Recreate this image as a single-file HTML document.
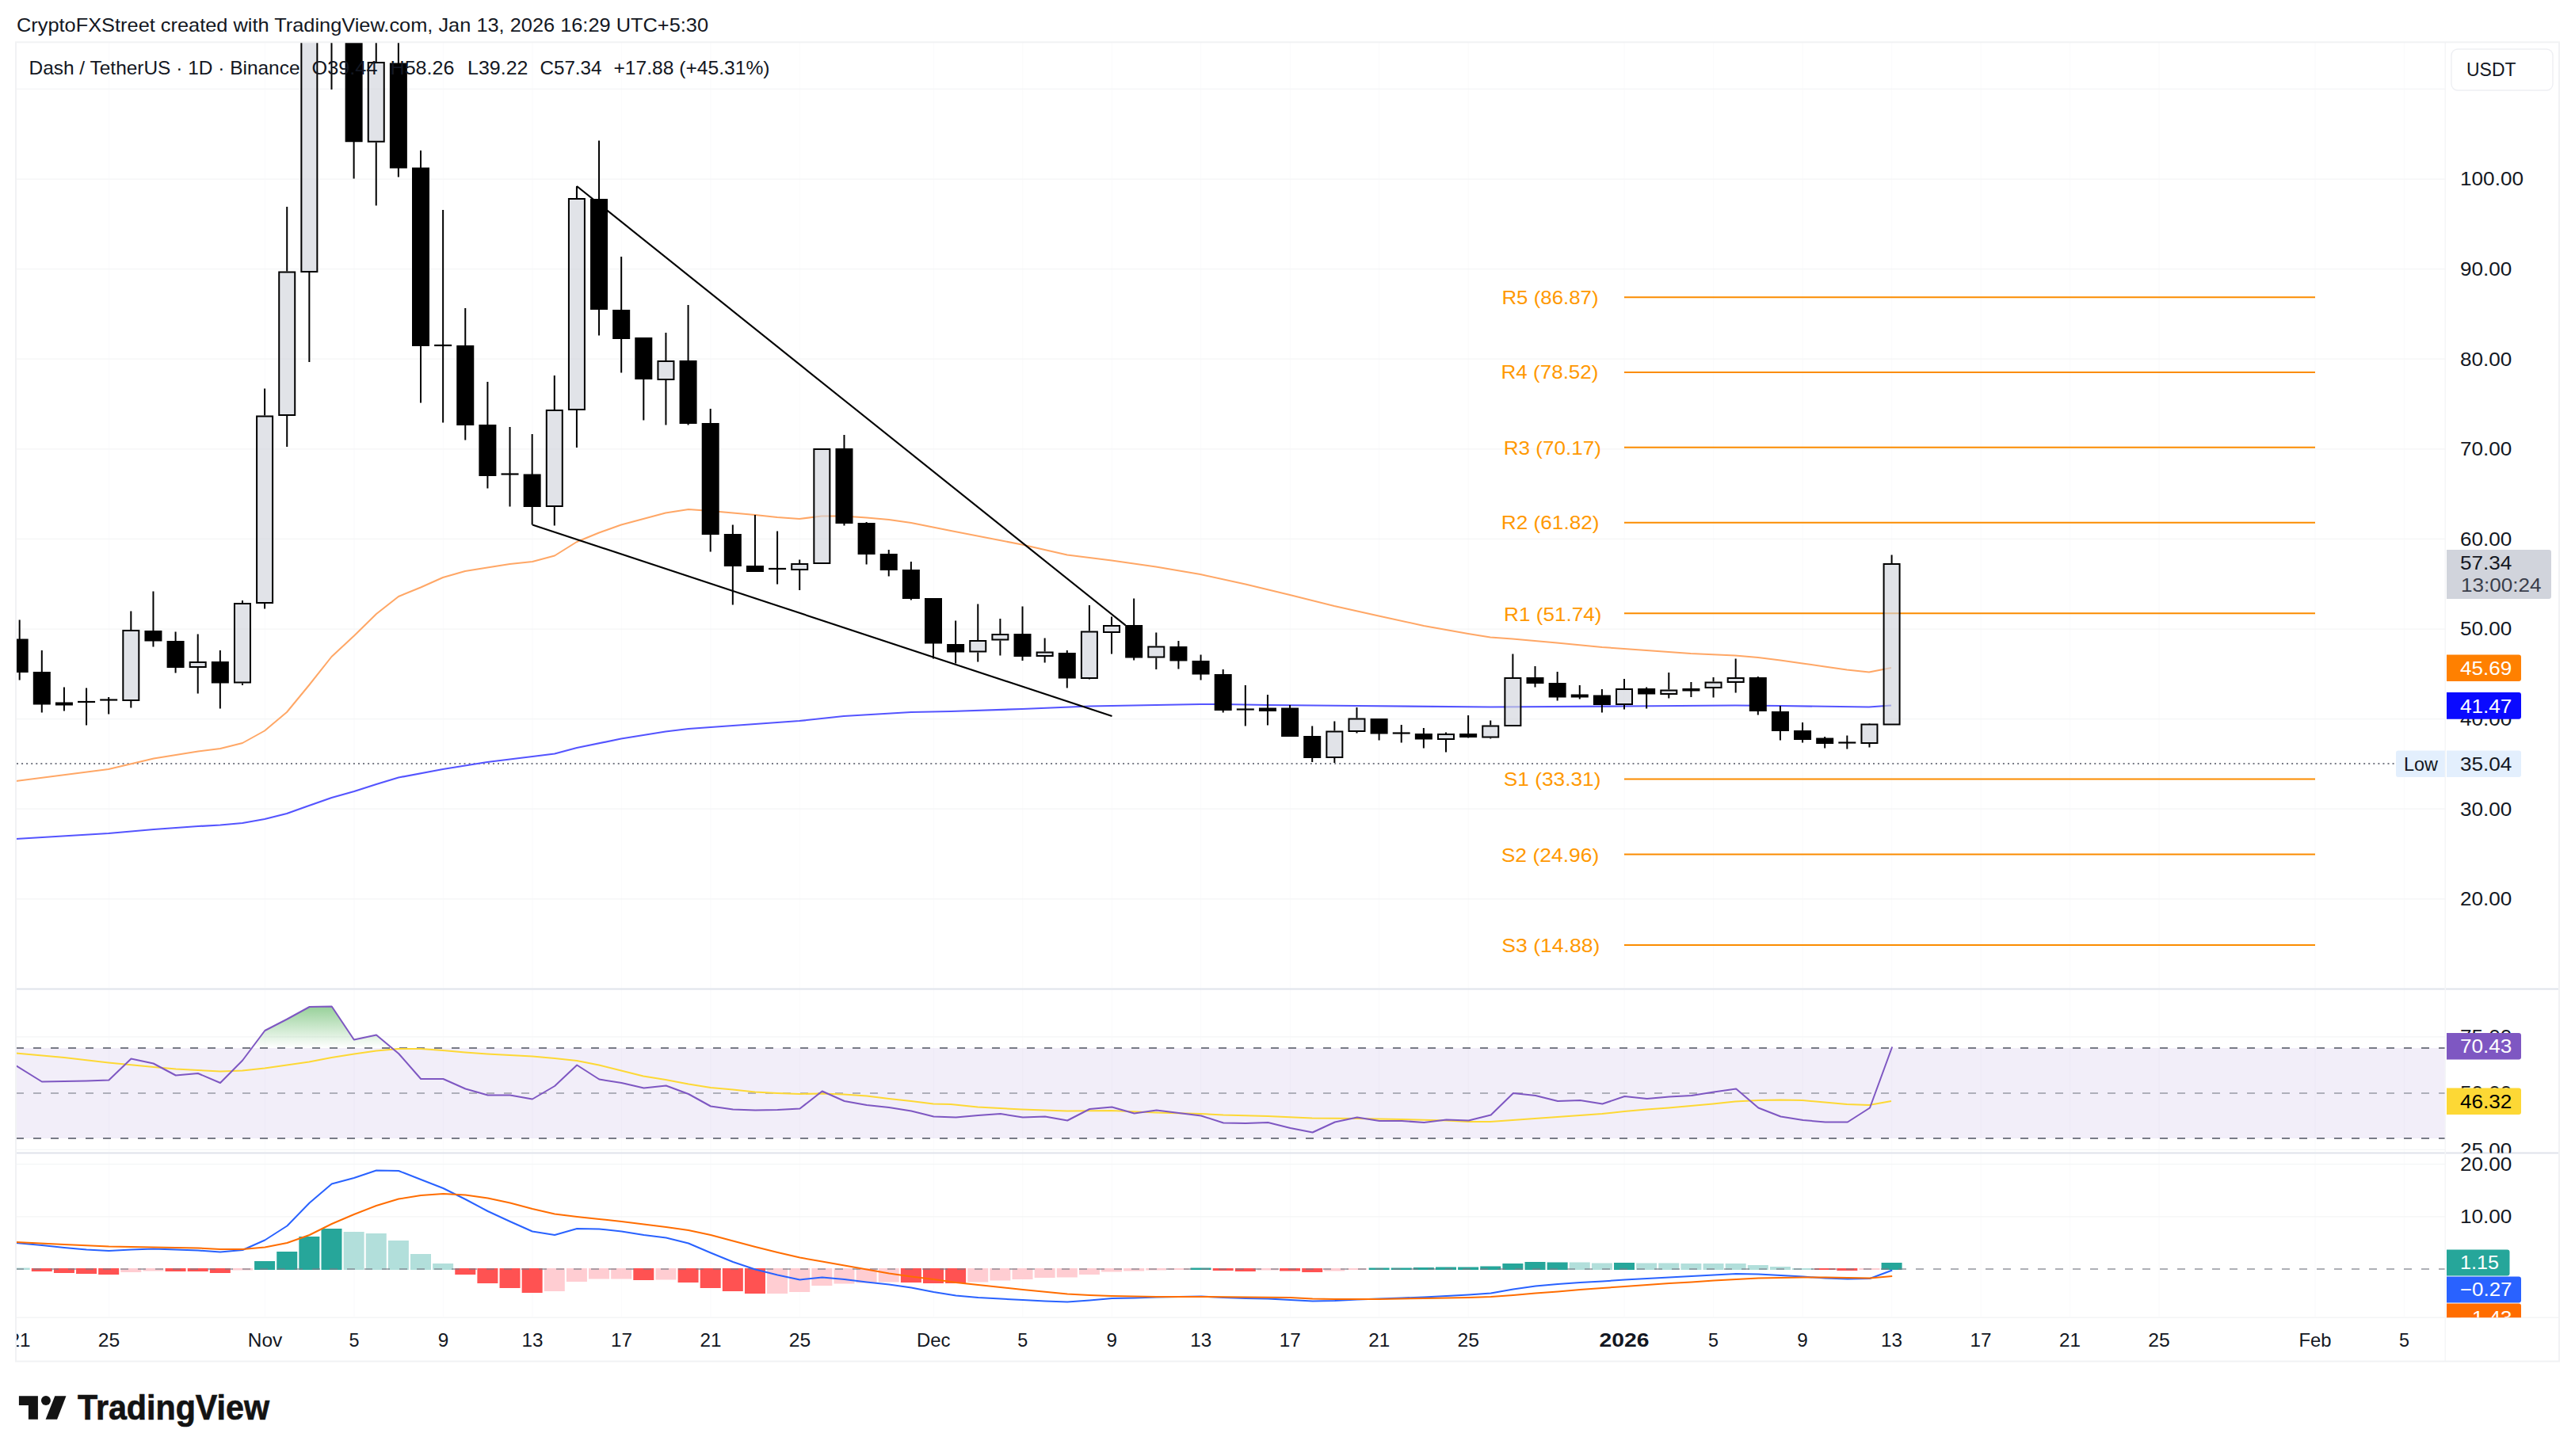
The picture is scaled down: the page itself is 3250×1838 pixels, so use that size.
<!DOCTYPE html>
<html><head><meta charset="utf-8"><title>DASHUSDT chart</title>
<style>html,body{margin:0;padding:0;background:#fff}svg{display:block}</style></head>
<body>
<svg width="3250" height="1838" viewBox="0 0 3250 1838" font-family="'Liberation Sans', sans-serif">
<defs>
<clipPath id="cp1"><rect x="20" y="54" width="3067" height="1194.5"/></clipPath>
<clipPath id="cp2"><rect x="20" y="1248.5" width="3067" height="207.0"/></clipPath>
<clipPath id="cp3"><rect x="20" y="1455.5" width="3067" height="207.70000000000005"/></clipPath>
<clipPath id="ca2"><rect x="3087" y="1249.5" width="143" height="206.0"/></clipPath>
<clipPath id="ca3"><rect x="3087" y="1456.5" width="143" height="206.70000000000005"/></clipPath>
<linearGradient id="gg" gradientUnits="userSpaceOnUse" x1="0" y1="1237.5" x2="0" y2="1323"><stop offset="0" stop-color="#4caf50" stop-opacity="0.95"/><stop offset="1" stop-color="#4caf50" stop-opacity="0"/></linearGradient>
</defs>
<rect x="0.00" y="0.00" width="3250.00" height="1838.00" fill="#ffffff" />
<text x="21.00" y="40.00" font-size="23.6" fill="#131722" textLength="873.0" lengthAdjust="spacingAndGlyphs" >CryptoFXStreet created with TradingView.com, Jan 13, 2026 16:29 UTC+5:30</text>
<line x1="137.62" y1="54.00" x2="137.62" y2="1663.20" stroke="#fbfbfc" stroke-width="1.25" />
<line x1="334.50" y1="54.00" x2="334.50" y2="1663.20" stroke="#fbfbfc" stroke-width="1.25" />
<line x1="447.00" y1="54.00" x2="447.00" y2="1663.20" stroke="#fbfbfc" stroke-width="1.25" />
<line x1="559.50" y1="54.00" x2="559.50" y2="1663.20" stroke="#fbfbfc" stroke-width="1.25" />
<line x1="672.00" y1="54.00" x2="672.00" y2="1663.20" stroke="#fbfbfc" stroke-width="1.25" />
<line x1="784.50" y1="54.00" x2="784.50" y2="1663.20" stroke="#fbfbfc" stroke-width="1.25" />
<line x1="897.00" y1="54.00" x2="897.00" y2="1663.20" stroke="#fbfbfc" stroke-width="1.25" />
<line x1="1009.50" y1="54.00" x2="1009.50" y2="1663.20" stroke="#fbfbfc" stroke-width="1.25" />
<line x1="1178.25" y1="54.00" x2="1178.25" y2="1663.20" stroke="#fbfbfc" stroke-width="1.25" />
<line x1="1290.75" y1="54.00" x2="1290.75" y2="1663.20" stroke="#fbfbfc" stroke-width="1.25" />
<line x1="1403.25" y1="54.00" x2="1403.25" y2="1663.20" stroke="#fbfbfc" stroke-width="1.25" />
<line x1="1515.75" y1="54.00" x2="1515.75" y2="1663.20" stroke="#fbfbfc" stroke-width="1.25" />
<line x1="1628.25" y1="54.00" x2="1628.25" y2="1663.20" stroke="#fbfbfc" stroke-width="1.25" />
<line x1="1740.75" y1="54.00" x2="1740.75" y2="1663.20" stroke="#fbfbfc" stroke-width="1.25" />
<line x1="1853.25" y1="54.00" x2="1853.25" y2="1663.20" stroke="#fbfbfc" stroke-width="1.25" />
<line x1="2050.12" y1="54.00" x2="2050.12" y2="1663.20" stroke="#fbfbfc" stroke-width="1.25" />
<line x1="2162.62" y1="54.00" x2="2162.62" y2="1663.20" stroke="#fbfbfc" stroke-width="1.25" />
<line x1="2275.12" y1="54.00" x2="2275.12" y2="1663.20" stroke="#fbfbfc" stroke-width="1.25" />
<line x1="2387.62" y1="54.00" x2="2387.62" y2="1663.20" stroke="#fbfbfc" stroke-width="1.25" />
<line x1="2500.12" y1="54.00" x2="2500.12" y2="1663.20" stroke="#fbfbfc" stroke-width="1.25" />
<line x1="2612.62" y1="54.00" x2="2612.62" y2="1663.20" stroke="#fbfbfc" stroke-width="1.25" />
<line x1="2725.12" y1="54.00" x2="2725.12" y2="1663.20" stroke="#fbfbfc" stroke-width="1.25" />
<line x1="2922.00" y1="54.00" x2="2922.00" y2="1663.20" stroke="#fbfbfc" stroke-width="1.25" />
<line x1="3034.50" y1="54.00" x2="3034.50" y2="1663.20" stroke="#fbfbfc" stroke-width="1.25" />
<line x1="20.00" y1="112.40" x2="3087.00" y2="112.40" stroke="#f4f5f6" stroke-width="1.25" />
<line x1="20.00" y1="226.00" x2="3087.00" y2="226.00" stroke="#f4f5f6" stroke-width="1.25" />
<line x1="20.00" y1="339.60" x2="3087.00" y2="339.60" stroke="#f4f5f6" stroke-width="1.25" />
<line x1="20.00" y1="453.20" x2="3087.00" y2="453.20" stroke="#f4f5f6" stroke-width="1.25" />
<line x1="20.00" y1="566.80" x2="3087.00" y2="566.80" stroke="#f4f5f6" stroke-width="1.25" />
<line x1="20.00" y1="680.40" x2="3087.00" y2="680.40" stroke="#f4f5f6" stroke-width="1.25" />
<line x1="20.00" y1="794.00" x2="3087.00" y2="794.00" stroke="#f4f5f6" stroke-width="1.25" />
<line x1="20.00" y1="907.60" x2="3087.00" y2="907.60" stroke="#f4f5f6" stroke-width="1.25" />
<line x1="20.00" y1="1021.20" x2="3087.00" y2="1021.20" stroke="#f4f5f6" stroke-width="1.25" />
<line x1="20.00" y1="1134.80" x2="3087.00" y2="1134.80" stroke="#f4f5f6" stroke-width="1.25" />
<line x1="20.00" y1="1308.75" x2="3087.00" y2="1308.75" stroke="#f4f5f6" stroke-width="1.25" />
<line x1="20.00" y1="1451.25" x2="3087.00" y2="1451.25" stroke="#f4f5f6" stroke-width="1.25" />
<line x1="20.00" y1="1469.50" x2="3087.00" y2="1469.50" stroke="#f4f5f6" stroke-width="1.25" />
<line x1="20.00" y1="1535.75" x2="3087.00" y2="1535.75" stroke="#f4f5f6" stroke-width="1.25" />
<rect x="20.00" y="1323.00" width="3067.00" height="114.00" fill="#7e57c2" fill-opacity="0.1"/>
<line x1="20.00" y1="1323.00" x2="3087.00" y2="1323.00" stroke="#787b86" stroke-width="2" stroke-dasharray="10 12"/>
<line x1="20.00" y1="1437.00" x2="3087.00" y2="1437.00" stroke="#787b86" stroke-width="2" stroke-dasharray="10 12"/>
<line x1="20.00" y1="1380.00" x2="3087.00" y2="1380.00" stroke="#787b86" stroke-width="2" stroke-dasharray="10 12" stroke-opacity="0.55"/>
<g clip-path="url(#cp1)">
<line x1="21.00" y1="963.95" x2="3024.00" y2="963.95" stroke="#787b86" stroke-width="2" stroke-dasharray="2 4.07"/>
<line x1="2050.00" y1="375.16" x2="2922.00" y2="375.16" stroke="#fb8c00" stroke-width="2" />
<line x1="2050.00" y1="470.01" x2="2922.00" y2="470.01" stroke="#fb8c00" stroke-width="2" />
<line x1="2050.00" y1="564.87" x2="2922.00" y2="564.87" stroke="#fb8c00" stroke-width="2" />
<line x1="2050.00" y1="659.72" x2="2922.00" y2="659.72" stroke="#fb8c00" stroke-width="2" />
<line x1="2050.00" y1="774.23" x2="2922.00" y2="774.23" stroke="#fb8c00" stroke-width="2" />
<line x1="2050.00" y1="983.60" x2="2922.00" y2="983.60" stroke="#fb8c00" stroke-width="2" />
<line x1="2050.00" y1="1078.45" x2="2922.00" y2="1078.45" stroke="#fb8c00" stroke-width="2" />
<line x1="2050.00" y1="1192.96" x2="2922.00" y2="1192.96" stroke="#fb8c00" stroke-width="2" />
<polyline points="20.0,1059.0 137.0,1052.0 194.0,1047.0 250.0,1043.0 278.0,1041.5 306.0,1039.0 334.0,1034.0 362.0,1027.0 390.0,1017.0 418.5,1007.0 447.0,999.0 475.0,990.0 503.0,981.5 559.0,971.0 615.0,962.0 672.0,955.0 700.0,951.5 728.0,944.0 784.0,932.5 840.0,923.5 869.0,920.0 925.0,916.0 1009.0,910.0 1065.0,904.0 1150.0,899.0 1200.0,898.0 1290.0,895.0 1375.0,891.5 1459.0,890.0 1515.0,889.0 1544.0,889.0 1600.0,890.0 1712.0,891.0 1881.0,892.5 2050.0,891.5 2190.0,890.5 2247.0,891.0 2359.0,892.5 2387.0,890.5" fill="none" stroke="#5454ff" stroke-width="2.2" stroke-linejoin="round" stroke-linecap="butt" />
<polyline points="20.0,986.0 137.0,971.0 194.0,957.5 250.0,948.5 278.0,945.0 306.0,938.0 334.0,922.5 362.0,899.0 390.0,865.0 418.5,829.0 447.0,802.5 475.0,775.0 503.0,753.0 531.0,741.5 559.0,729.0 587.0,721.0 615.0,716.5 643.5,712.0 672.0,709.0 700.0,701.5 728.0,684.0 756.0,672.5 784.0,662.5 812.0,655.0 840.0,647.5 869.0,643.0 897.0,645.0 925.0,647.5 953.0,650.0 981.0,653.0 1009.0,655.0 1037.0,651.5 1065.0,651.5 1094.0,653.5 1122.0,656.0 1150.0,660.0 1200.0,670.0 1290.0,687.5 1347.0,700.5 1403.0,707.5 1459.0,715.5 1515.0,725.0 1572.0,737.5 1628.0,751.0 1684.0,765.0 1740.0,777.5 1797.0,790.0 1853.0,800.0 1881.0,804.5 1909.0,806.5 1965.0,811.5 2022.0,817.0 2078.0,821.0 2134.0,825.0 2190.0,827.5 2219.0,830.0 2247.0,833.5 2275.0,837.5 2303.0,841.5 2331.0,845.5 2359.0,848.5 2387.0,843.0" fill="none" stroke="#ffa766" stroke-width="2.0" stroke-linejoin="round" stroke-linecap="butt" />
<line x1="24.67" y1="782.50" x2="24.67" y2="858.50" stroke="#000" stroke-width="2" />
<rect x="13.67" y="806.50" width="22.00" height="42.50" fill="#000" />
<line x1="52.80" y1="821.00" x2="52.80" y2="899.50" stroke="#000" stroke-width="2" />
<rect x="41.80" y="848.00" width="22.00" height="41.50" fill="#000" />
<line x1="80.93" y1="867.50" x2="80.93" y2="897.50" stroke="#000" stroke-width="2" />
<rect x="69.93" y="886.50" width="22.00" height="4.00" fill="#000" />
<line x1="109.06" y1="868.50" x2="109.06" y2="915.50" stroke="#000" stroke-width="2" />
<line x1="98.06" y1="886.00" x2="120.06" y2="886.00" stroke="#000" stroke-width="2.2" />
<line x1="137.19" y1="880.00" x2="137.19" y2="901.50" stroke="#000" stroke-width="2" />
<line x1="126.19" y1="883.50" x2="148.19" y2="883.50" stroke="#000" stroke-width="2.2" />
<line x1="165.32" y1="771.50" x2="165.32" y2="795.00" stroke="#000" stroke-width="2" />
<line x1="165.32" y1="885.00" x2="165.32" y2="893.50" stroke="#000" stroke-width="2" />
<rect x="155.32" y="796.00" width="20.00" height="88.00" fill="#d1d4dc" fill-opacity="0.65" stroke="#000" stroke-width="2"/>
<line x1="193.45" y1="746.50" x2="193.45" y2="816.50" stroke="#000" stroke-width="2" />
<rect x="182.45" y="796.00" width="22.00" height="13.50" fill="#000" />
<line x1="221.58" y1="797.50" x2="221.58" y2="849.50" stroke="#000" stroke-width="2" />
<rect x="210.58" y="809.00" width="22.00" height="34.00" fill="#000" />
<line x1="249.71" y1="800.50" x2="249.71" y2="835.00" stroke="#000" stroke-width="2" />
<line x1="249.71" y1="843.00" x2="249.71" y2="875.50" stroke="#000" stroke-width="2" />
<rect x="239.71" y="836.00" width="20.00" height="6.00" fill="#d1d4dc" fill-opacity="0.65" stroke="#000" stroke-width="2"/>
<line x1="277.84" y1="821.00" x2="277.84" y2="894.50" stroke="#000" stroke-width="2" />
<rect x="266.84" y="835.00" width="22.00" height="27.50" fill="#000" />
<line x1="305.97" y1="758.00" x2="305.97" y2="761.00" stroke="#000" stroke-width="2" />
<line x1="305.97" y1="862.50" x2="305.97" y2="865.00" stroke="#000" stroke-width="2" />
<rect x="295.97" y="762.00" width="20.00" height="99.50" fill="#d1d4dc" fill-opacity="0.65" stroke="#000" stroke-width="2"/>
<line x1="334.10" y1="490.50" x2="334.10" y2="524.50" stroke="#000" stroke-width="2" />
<line x1="334.10" y1="762.00" x2="334.10" y2="768.50" stroke="#000" stroke-width="2" />
<rect x="324.10" y="525.50" width="20.00" height="235.50" fill="#d1d4dc" fill-opacity="0.65" stroke="#000" stroke-width="2"/>
<line x1="362.23" y1="261.00" x2="362.23" y2="342.50" stroke="#000" stroke-width="2" />
<line x1="362.23" y1="525.00" x2="362.23" y2="564.00" stroke="#000" stroke-width="2" />
<rect x="352.23" y="343.50" width="20.00" height="180.50" fill="#d1d4dc" fill-opacity="0.65" stroke="#000" stroke-width="2"/>
<line x1="390.36" y1="344.00" x2="390.36" y2="457.00" stroke="#000" stroke-width="2" />
<rect x="380.36" y="-50.00" width="20.00" height="393.00" fill="#d1d4dc" fill-opacity="0.65" stroke="#000" stroke-width="2"/>
<line x1="418.49" y1="-59.00" x2="418.49" y2="113.00" stroke="#000" stroke-width="2" />
<rect x="408.49" y="-80.00" width="20.00" height="20.00" fill="#d1d4dc" fill-opacity="0.65" stroke="#000" stroke-width="2"/>
<line x1="446.62" y1="-50.00" x2="446.62" y2="225.50" stroke="#000" stroke-width="2" />
<rect x="435.62" y="-50.50" width="22.00" height="229.75" fill="#000" />
<line x1="474.75" y1="-50.00" x2="474.75" y2="78.00" stroke="#000" stroke-width="2" />
<line x1="474.75" y1="179.75" x2="474.75" y2="259.50" stroke="#000" stroke-width="2" />
<rect x="464.75" y="79.00" width="20.00" height="99.75" fill="#d1d4dc" fill-opacity="0.65" stroke="#000" stroke-width="2"/>
<line x1="502.88" y1="-50.00" x2="502.88" y2="223.50" stroke="#000" stroke-width="2" />
<rect x="491.88" y="79.50" width="22.00" height="133.00" fill="#000" />
<line x1="531.01" y1="190.00" x2="531.01" y2="508.50" stroke="#000" stroke-width="2" />
<rect x="520.01" y="211.50" width="22.00" height="225.50" fill="#000" />
<line x1="559.14" y1="265.00" x2="559.14" y2="533.50" stroke="#000" stroke-width="2" />
<line x1="548.14" y1="436.00" x2="570.14" y2="436.00" stroke="#000" stroke-width="2.2" />
<line x1="587.27" y1="389.00" x2="587.27" y2="555.50" stroke="#000" stroke-width="2" />
<rect x="576.27" y="436.00" width="22.00" height="101.00" fill="#000" />
<line x1="615.40" y1="482.00" x2="615.40" y2="616.50" stroke="#000" stroke-width="2" />
<rect x="604.40" y="536.00" width="22.00" height="65.00" fill="#000" />
<line x1="643.53" y1="539.00" x2="643.53" y2="639.50" stroke="#000" stroke-width="2" />
<line x1="632.53" y1="598.50" x2="654.53" y2="598.50" stroke="#000" stroke-width="2.2" />
<line x1="671.66" y1="548.00" x2="671.66" y2="662.50" stroke="#000" stroke-width="2" />
<rect x="660.66" y="598.50" width="22.00" height="41.50" fill="#000" />
<line x1="699.79" y1="474.00" x2="699.79" y2="517.00" stroke="#000" stroke-width="2" />
<line x1="699.79" y1="640.00" x2="699.79" y2="663.50" stroke="#000" stroke-width="2" />
<rect x="689.79" y="518.00" width="20.00" height="121.00" fill="#d1d4dc" fill-opacity="0.65" stroke="#000" stroke-width="2"/>
<line x1="727.92" y1="236.00" x2="727.92" y2="250.00" stroke="#000" stroke-width="2" />
<line x1="727.92" y1="518.00" x2="727.92" y2="565.00" stroke="#000" stroke-width="2" />
<rect x="717.92" y="251.00" width="20.00" height="266.00" fill="#d1d4dc" fill-opacity="0.65" stroke="#000" stroke-width="2"/>
<line x1="756.05" y1="177.50" x2="756.05" y2="423.50" stroke="#000" stroke-width="2" />
<rect x="745.05" y="251.00" width="22.00" height="140.00" fill="#000" />
<line x1="784.18" y1="324.00" x2="784.18" y2="470.50" stroke="#000" stroke-width="2" />
<rect x="773.18" y="391.00" width="22.00" height="37.00" fill="#000" />
<line x1="812.31" y1="426.50" x2="812.31" y2="530.50" stroke="#000" stroke-width="2" />
<rect x="801.31" y="426.00" width="22.00" height="53.00" fill="#000" />
<line x1="840.44" y1="420.00" x2="840.44" y2="455.00" stroke="#000" stroke-width="2" />
<line x1="840.44" y1="480.00" x2="840.44" y2="536.50" stroke="#000" stroke-width="2" />
<rect x="830.44" y="456.00" width="20.00" height="23.00" fill="#d1d4dc" fill-opacity="0.65" stroke="#000" stroke-width="2"/>
<line x1="868.57" y1="385.00" x2="868.57" y2="536.50" stroke="#000" stroke-width="2" />
<rect x="857.57" y="455.00" width="22.00" height="80.00" fill="#000" />
<line x1="896.70" y1="516.00" x2="896.70" y2="696.50" stroke="#000" stroke-width="2" />
<rect x="885.70" y="534.00" width="22.00" height="141.00" fill="#000" />
<line x1="924.83" y1="662.50" x2="924.83" y2="763.50" stroke="#000" stroke-width="2" />
<rect x="913.83" y="674.00" width="22.00" height="41.00" fill="#000" />
<line x1="952.96" y1="650.00" x2="952.96" y2="721.50" stroke="#000" stroke-width="2" />
<rect x="941.96" y="714.00" width="22.00" height="8.00" fill="#000" />
<line x1="981.09" y1="670.50" x2="981.09" y2="737.50" stroke="#000" stroke-width="2" />
<line x1="970.09" y1="718.00" x2="992.09" y2="718.00" stroke="#000" stroke-width="2.2" />
<line x1="1009.22" y1="706.50" x2="1009.22" y2="711.00" stroke="#000" stroke-width="2" />
<line x1="1009.22" y1="720.00" x2="1009.22" y2="745.00" stroke="#000" stroke-width="2" />
<rect x="999.22" y="712.00" width="20.00" height="7.00" fill="#d1d4dc" fill-opacity="0.65" stroke="#000" stroke-width="2"/>
<rect x="1027.35" y="567.00" width="20.00" height="144.00" fill="#d1d4dc" fill-opacity="0.65" stroke="#000" stroke-width="2"/>
<line x1="1065.48" y1="549.00" x2="1065.48" y2="663.50" stroke="#000" stroke-width="2" />
<rect x="1054.48" y="566.00" width="22.00" height="95.00" fill="#000" />
<line x1="1093.61" y1="659.00" x2="1093.61" y2="712.50" stroke="#000" stroke-width="2" />
<rect x="1082.61" y="660.00" width="22.00" height="40.00" fill="#000" />
<line x1="1121.74" y1="694.00" x2="1121.74" y2="727.50" stroke="#000" stroke-width="2" />
<rect x="1110.74" y="699.00" width="22.00" height="21.00" fill="#000" />
<line x1="1149.87" y1="709.00" x2="1149.87" y2="757.50" stroke="#000" stroke-width="2" />
<rect x="1138.87" y="719.00" width="22.00" height="37.00" fill="#000" />
<line x1="1178.00" y1="755.50" x2="1178.00" y2="831.50" stroke="#000" stroke-width="2" />
<rect x="1167.00" y="755.00" width="22.00" height="57.50" fill="#000" />
<line x1="1206.13" y1="783.50" x2="1206.13" y2="837.50" stroke="#000" stroke-width="2" />
<rect x="1195.13" y="813.00" width="22.00" height="10.50" fill="#000" />
<line x1="1234.26" y1="762.50" x2="1234.26" y2="808.00" stroke="#000" stroke-width="2" />
<line x1="1234.26" y1="823.50" x2="1234.26" y2="835.50" stroke="#000" stroke-width="2" />
<rect x="1224.26" y="809.00" width="20.00" height="13.50" fill="#d1d4dc" fill-opacity="0.65" stroke="#000" stroke-width="2"/>
<line x1="1262.39" y1="781.00" x2="1262.39" y2="800.00" stroke="#000" stroke-width="2" />
<line x1="1262.39" y1="808.50" x2="1262.39" y2="827.50" stroke="#000" stroke-width="2" />
<rect x="1252.39" y="801.00" width="20.00" height="6.50" fill="#d1d4dc" fill-opacity="0.65" stroke="#000" stroke-width="2"/>
<line x1="1290.52" y1="765.50" x2="1290.52" y2="834.00" stroke="#000" stroke-width="2" />
<rect x="1279.52" y="800.00" width="22.00" height="29.00" fill="#000" />
<line x1="1318.65" y1="805.50" x2="1318.65" y2="822.50" stroke="#000" stroke-width="2" />
<line x1="1318.65" y1="829.00" x2="1318.65" y2="836.50" stroke="#000" stroke-width="2" />
<rect x="1308.65" y="823.50" width="20.00" height="4.50" fill="#d1d4dc" fill-opacity="0.65" stroke="#000" stroke-width="2"/>
<line x1="1346.78" y1="821.00" x2="1346.78" y2="868.50" stroke="#000" stroke-width="2" />
<rect x="1335.78" y="824.00" width="22.00" height="32.50" fill="#000" />
<line x1="1374.91" y1="764.00" x2="1374.91" y2="796.50" stroke="#000" stroke-width="2" />
<line x1="1374.91" y1="857.00" x2="1374.91" y2="857.50" stroke="#000" stroke-width="2" />
<rect x="1364.91" y="797.50" width="20.00" height="58.50" fill="#d1d4dc" fill-opacity="0.65" stroke="#000" stroke-width="2"/>
<line x1="1403.04" y1="778.50" x2="1403.04" y2="789.00" stroke="#000" stroke-width="2" />
<line x1="1403.04" y1="799.00" x2="1403.04" y2="825.50" stroke="#000" stroke-width="2" />
<rect x="1393.04" y="790.00" width="20.00" height="8.00" fill="#d1d4dc" fill-opacity="0.65" stroke="#000" stroke-width="2"/>
<line x1="1431.17" y1="755.50" x2="1431.17" y2="833.50" stroke="#000" stroke-width="2" />
<rect x="1420.17" y="789.00" width="22.00" height="41.50" fill="#000" />
<line x1="1459.30" y1="798.50" x2="1459.30" y2="815.50" stroke="#000" stroke-width="2" />
<line x1="1459.30" y1="830.50" x2="1459.30" y2="845.00" stroke="#000" stroke-width="2" />
<rect x="1449.30" y="816.50" width="20.00" height="13.00" fill="#d1d4dc" fill-opacity="0.65" stroke="#000" stroke-width="2"/>
<line x1="1487.43" y1="809.00" x2="1487.43" y2="844.50" stroke="#000" stroke-width="2" />
<rect x="1476.43" y="816.00" width="22.00" height="18.50" fill="#000" />
<line x1="1515.56" y1="826.50" x2="1515.56" y2="858.50" stroke="#000" stroke-width="2" />
<rect x="1504.56" y="834.00" width="22.00" height="17.50" fill="#000" />
<line x1="1543.69" y1="845.00" x2="1543.69" y2="899.50" stroke="#000" stroke-width="2" />
<rect x="1532.69" y="851.00" width="22.00" height="46.00" fill="#000" />
<line x1="1571.82" y1="865.00" x2="1571.82" y2="916.50" stroke="#000" stroke-width="2" />
<line x1="1560.82" y1="895.50" x2="1582.82" y2="895.50" stroke="#000" stroke-width="2.2" />
<line x1="1599.95" y1="877.00" x2="1599.95" y2="915.50" stroke="#000" stroke-width="2" />
<rect x="1588.95" y="893.50" width="22.00" height="4.50" fill="#000" />
<line x1="1628.08" y1="890.00" x2="1628.08" y2="929.50" stroke="#000" stroke-width="2" />
<rect x="1617.08" y="893.50" width="22.00" height="36.50" fill="#000" />
<line x1="1656.21" y1="916.50" x2="1656.21" y2="962.00" stroke="#000" stroke-width="2" />
<rect x="1645.21" y="929.00" width="22.00" height="28.00" fill="#000" />
<line x1="1684.34" y1="910.50" x2="1684.34" y2="922.50" stroke="#000" stroke-width="2" />
<line x1="1684.34" y1="957.00" x2="1684.34" y2="963.00" stroke="#000" stroke-width="2" />
<rect x="1674.34" y="923.50" width="20.00" height="32.50" fill="#d1d4dc" fill-opacity="0.65" stroke="#000" stroke-width="2"/>
<line x1="1712.47" y1="893.00" x2="1712.47" y2="906.50" stroke="#000" stroke-width="2" />
<line x1="1712.47" y1="924.00" x2="1712.47" y2="925.50" stroke="#000" stroke-width="2" />
<rect x="1702.47" y="907.50" width="20.00" height="15.50" fill="#d1d4dc" fill-opacity="0.65" stroke="#000" stroke-width="2"/>
<line x1="1740.60" y1="907.50" x2="1740.60" y2="934.50" stroke="#000" stroke-width="2" />
<rect x="1729.60" y="907.00" width="22.00" height="19.50" fill="#000" />
<line x1="1768.73" y1="915.00" x2="1768.73" y2="937.50" stroke="#000" stroke-width="2" />
<line x1="1757.73" y1="925.50" x2="1779.73" y2="925.50" stroke="#000" stroke-width="2.2" />
<line x1="1796.86" y1="919.00" x2="1796.86" y2="944.50" stroke="#000" stroke-width="2" />
<rect x="1785.86" y="926.00" width="22.00" height="7.50" fill="#000" />
<line x1="1824.99" y1="924.50" x2="1824.99" y2="926.00" stroke="#000" stroke-width="2" />
<line x1="1824.99" y1="934.00" x2="1824.99" y2="949.50" stroke="#000" stroke-width="2" />
<rect x="1814.99" y="927.00" width="20.00" height="6.00" fill="#d1d4dc" fill-opacity="0.65" stroke="#000" stroke-width="2"/>
<line x1="1853.12" y1="903.00" x2="1853.12" y2="931.50" stroke="#000" stroke-width="2" />
<rect x="1842.12" y="926.00" width="22.00" height="5.00" fill="#000" />
<line x1="1881.25" y1="909.50" x2="1881.25" y2="915.50" stroke="#000" stroke-width="2" />
<line x1="1881.25" y1="931.50" x2="1881.25" y2="932.50" stroke="#000" stroke-width="2" />
<rect x="1871.25" y="916.50" width="20.00" height="14.00" fill="#d1d4dc" fill-opacity="0.65" stroke="#000" stroke-width="2"/>
<line x1="1909.38" y1="825.50" x2="1909.38" y2="855.00" stroke="#000" stroke-width="2" />
<rect x="1899.38" y="856.00" width="20.00" height="60.00" fill="#d1d4dc" fill-opacity="0.65" stroke="#000" stroke-width="2"/>
<line x1="1937.51" y1="841.00" x2="1937.51" y2="867.50" stroke="#000" stroke-width="2" />
<rect x="1926.51" y="855.00" width="22.00" height="8.00" fill="#000" />
<line x1="1965.64" y1="848.00" x2="1965.64" y2="884.50" stroke="#000" stroke-width="2" />
<rect x="1954.64" y="862.00" width="22.00" height="18.50" fill="#000" />
<line x1="1993.77" y1="865.00" x2="1993.77" y2="882.50" stroke="#000" stroke-width="2" />
<rect x="1982.77" y="876.50" width="22.00" height="4.00" fill="#000" />
<line x1="2021.90" y1="870.00" x2="2021.90" y2="899.50" stroke="#000" stroke-width="2" />
<rect x="2010.90" y="877.50" width="22.00" height="12.50" fill="#000" />
<line x1="2050.03" y1="857.00" x2="2050.03" y2="869.00" stroke="#000" stroke-width="2" />
<line x1="2050.03" y1="890.00" x2="2050.03" y2="895.50" stroke="#000" stroke-width="2" />
<rect x="2040.03" y="870.00" width="20.00" height="19.00" fill="#d1d4dc" fill-opacity="0.65" stroke="#000" stroke-width="2"/>
<line x1="2078.16" y1="867.50" x2="2078.16" y2="894.50" stroke="#000" stroke-width="2" />
<rect x="2067.16" y="869.00" width="22.00" height="7.50" fill="#000" />
<line x1="2106.29" y1="849.00" x2="2106.29" y2="870.50" stroke="#000" stroke-width="2" />
<line x1="2106.29" y1="877.00" x2="2106.29" y2="881.50" stroke="#000" stroke-width="2" />
<rect x="2096.29" y="871.50" width="20.00" height="4.50" fill="#d1d4dc" fill-opacity="0.65" stroke="#000" stroke-width="2"/>
<line x1="2134.42" y1="861.00" x2="2134.42" y2="880.00" stroke="#000" stroke-width="2" />
<rect x="2123.42" y="869.00" width="22.00" height="3.50" fill="#000" />
<line x1="2162.55" y1="855.00" x2="2162.55" y2="860.50" stroke="#000" stroke-width="2" />
<line x1="2162.55" y1="869.00" x2="2162.55" y2="880.50" stroke="#000" stroke-width="2" />
<rect x="2152.55" y="861.50" width="20.00" height="6.50" fill="#d1d4dc" fill-opacity="0.65" stroke="#000" stroke-width="2"/>
<line x1="2190.68" y1="831.50" x2="2190.68" y2="855.00" stroke="#000" stroke-width="2" />
<line x1="2190.68" y1="862.00" x2="2190.68" y2="874.50" stroke="#000" stroke-width="2" />
<rect x="2180.68" y="856.00" width="20.00" height="5.00" fill="#d1d4dc" fill-opacity="0.65" stroke="#000" stroke-width="2"/>
<line x1="2218.81" y1="854.00" x2="2218.81" y2="902.50" stroke="#000" stroke-width="2" />
<rect x="2207.81" y="855.00" width="22.00" height="43.00" fill="#000" />
<line x1="2246.94" y1="891.00" x2="2246.94" y2="934.50" stroke="#000" stroke-width="2" />
<rect x="2235.94" y="898.00" width="22.00" height="25.00" fill="#000" />
<line x1="2275.07" y1="912.00" x2="2275.07" y2="937.50" stroke="#000" stroke-width="2" />
<rect x="2264.07" y="922.00" width="22.00" height="12.00" fill="#000" />
<line x1="2303.20" y1="930.00" x2="2303.20" y2="944.50" stroke="#000" stroke-width="2" />
<rect x="2292.20" y="931.50" width="22.00" height="7.50" fill="#000" />
<line x1="2331.33" y1="928.50" x2="2331.33" y2="945.50" stroke="#000" stroke-width="2" />
<line x1="2320.33" y1="937.50" x2="2342.33" y2="937.50" stroke="#000" stroke-width="2.2" />
<line x1="2359.46" y1="913.00" x2="2359.46" y2="913.50" stroke="#000" stroke-width="2" />
<line x1="2359.46" y1="939.00" x2="2359.46" y2="943.50" stroke="#000" stroke-width="2" />
<rect x="2349.46" y="914.50" width="20.00" height="23.50" fill="#d1d4dc" fill-opacity="0.65" stroke="#000" stroke-width="2"/>
<line x1="2387.59" y1="700.50" x2="2387.59" y2="711.00" stroke="#000" stroke-width="2" />
<rect x="2377.59" y="712.00" width="20.00" height="202.50" fill="#d1d4dc" fill-opacity="0.65" stroke="#000" stroke-width="2"/>
<line x1="728.00" y1="235.00" x2="1420.60" y2="789.40" stroke="#000" stroke-width="2.1" />
<line x1="672.00" y1="662.50" x2="1403.50" y2="904.00" stroke="#000" stroke-width="2.1" />
<line x1="728.00" y1="235.00" x2="728.00" y2="251.00" stroke="#000" stroke-width="2" />
<text x="1895.40" y="384.10" font-size="23.6" fill="#ff9800" textLength="122.2" lengthAdjust="spacingAndGlyphs" >R5 (86.87)</text>
<text x="1894.50" y="477.50" font-size="23.6" fill="#ff9800" textLength="123.0" lengthAdjust="spacingAndGlyphs" >R4 (78.52)</text>
<text x="1897.70" y="573.80" font-size="23.6" fill="#ff9800" textLength="123.2" lengthAdjust="spacingAndGlyphs" >R3 (70.17)</text>
<text x="1894.80" y="668.30" font-size="23.6" fill="#ff9800" textLength="123.8" lengthAdjust="spacingAndGlyphs" >R2 (61.82)</text>
<text x="1898.00" y="784.20" font-size="23.6" fill="#ff9800" textLength="123.5" lengthAdjust="spacingAndGlyphs" >R1 (51.74)</text>
<text x="1897.70" y="992.40" font-size="23.6" fill="#ff9800" textLength="122.8" lengthAdjust="spacingAndGlyphs" >S1 (33.31)</text>
<text x="1894.70" y="1087.60" font-size="23.6" fill="#ff9800" textLength="123.7" lengthAdjust="spacingAndGlyphs" >S2 (24.96)</text>
<text x="1895.30" y="1201.80" font-size="23.6" fill="#ff9800" textLength="124.0" lengthAdjust="spacingAndGlyphs" >S3 (14.88)</text>
</g>
<text x="36.50" y="94.00" font-size="23.6" fill="#131722" textLength="342.0" lengthAdjust="spacingAndGlyphs" >Dash / TetherUS · 1D · Binance</text>
<text x="393.50" y="94.00" font-size="23.6" fill="#131722" textLength="83.0" lengthAdjust="spacingAndGlyphs" >O39.44</text>
<text x="492.50" y="94.00" font-size="23.6" fill="#131722" textLength="81.0" lengthAdjust="spacingAndGlyphs" >H58.26</text>
<text x="590.00" y="94.00" font-size="23.6" fill="#131722" textLength="76.5" lengthAdjust="spacingAndGlyphs" >L39.22</text>
<text x="681.50" y="94.00" font-size="23.6" fill="#131722" textLength="78.0" lengthAdjust="spacingAndGlyphs" >C57.34</text>
<text x="774.50" y="94.00" font-size="23.6" fill="#131722" textLength="197.0" lengthAdjust="spacingAndGlyphs" >+17.88 (+45.31%)</text>
<g clip-path="url(#cp2)">
<polygon points="317.8,1323.0 334.3,1301.0 362.4,1286.5 390.6,1271.0 418.7,1270.5 446.8,1312.5 475.0,1306.5 494.7,1323.0" fill="url(#gg)"/>
<polygon points="2387.6,1323.0 2388.2,1321.5 2388.2,1323.0" fill="url(#gg)"/>
<polyline points="20.0,1329.5 81.0,1335.0 137.0,1341.5 194.0,1347.0 222.0,1349.5 250.0,1351.0 278.0,1352.5 306.0,1351.5 334.0,1348.5 362.0,1344.5 390.0,1340.5 418.5,1335.0 447.0,1330.5 475.0,1326.5 503.0,1324.0 531.0,1324.0 559.0,1326.0 587.0,1328.5 615.0,1330.5 643.5,1332.0 672.0,1333.5 700.0,1336.0 728.0,1339.0 756.0,1344.5 784.0,1351.5 812.0,1358.5 840.0,1363.0 869.0,1368.5 897.0,1373.0 925.0,1375.5 953.0,1378.5 981.0,1380.0 1009.0,1381.0 1037.0,1380.5 1065.0,1381.5 1094.0,1383.5 1122.0,1387.0 1150.0,1390.0 1178.0,1393.5 1200.0,1394.0 1234.0,1397.5 1290.0,1400.5 1347.0,1402.5 1403.0,1402.0 1459.0,1404.5 1515.0,1406.0 1544.0,1407.5 1600.0,1409.0 1656.0,1411.5 1712.0,1412.0 1769.0,1413.0 1825.0,1414.5 1853.0,1416.0 1881.0,1416.0 1909.0,1414.0 1937.0,1412.0 1994.0,1408.0 2022.0,1406.0 2050.0,1403.0 2078.0,1400.5 2106.0,1398.5 2134.0,1396.0 2162.0,1393.5 2190.0,1390.5 2219.0,1389.0 2247.0,1388.5 2275.0,1389.0 2303.0,1391.5 2331.0,1394.0 2359.0,1395.0 2387.0,1390.0" fill="none" stroke="#fdd835" stroke-width="2" stroke-linejoin="round" stroke-linecap="butt" />
<polyline points="20.0,1345.0 52.9,1365.5 81.1,1365.0 109.2,1364.5 137.4,1363.5 165.5,1336.5 193.6,1342.5 221.8,1357.5 249.9,1355.0 278.0,1367.0 306.2,1338.5 334.3,1301.0 362.4,1286.5 390.6,1271.0 418.7,1270.5 446.8,1312.5 475.0,1306.5 503.1,1330.0 531.2,1362.0 559.4,1362.0 587.5,1374.5 615.7,1382.5 643.8,1382.5 671.9,1387.5 700.1,1371.0 728.2,1344.5 756.3,1362.5 784.5,1367.0 812.6,1373.5 840.7,1370.5 868.9,1381.0 897.0,1396.5 925.1,1400.5 953.3,1401.5 981.4,1401.0 1009.5,1399.5 1037.7,1377.5 1065.8,1390.0 1093.9,1395.0 1122.1,1398.0 1150.2,1402.5 1178.4,1409.5 1206.5,1410.5 1234.6,1408.0 1262.8,1406.0 1290.9,1410.5 1319.0,1409.5 1347.2,1414.5 1375.3,1400.0 1403.4,1397.5 1431.6,1405.5 1459.7,1401.5 1487.8,1405.0 1516.0,1408.5 1544.1,1417.5 1572.2,1418.0 1600.4,1417.0 1628.5,1424.0 1656.6,1429.5 1684.8,1416.5 1712.9,1410.5 1741.0,1415.0 1769.2,1415.0 1797.3,1417.0 1825.5,1413.5 1853.6,1414.5 1881.7,1407.5 1909.9,1380.0 1938.0,1383.0 1966.1,1390.0 1994.3,1389.0 2022.4,1393.5 2050.5,1384.0 2078.7,1387.0 2106.8,1384.5 2134.9,1383.0 2163.1,1378.5 2191.2,1374.5 2219.3,1398.5 2247.5,1409.5 2275.6,1414.0 2303.8,1416.5 2331.9,1416.5 2360.0,1398.5 2388.2,1321.5" fill="none" stroke="#7e57c2" stroke-width="2" stroke-linejoin="round" stroke-linecap="butt" />
</g>
<g clip-path="url(#cp3)">
<rect x="11.67" y="1600.50" width="26.00" height="2.50" fill="#b2dfdb" />
<rect x="39.80" y="1601.00" width="26.00" height="4.00" fill="#ff5252" />
<rect x="67.93" y="1601.00" width="26.00" height="6.00" fill="#ff5252" />
<rect x="96.06" y="1601.00" width="26.00" height="7.00" fill="#ff5252" />
<rect x="124.19" y="1601.00" width="26.00" height="8.00" fill="#ff5252" />
<rect x="152.32" y="1601.00" width="26.00" height="5.00" fill="#ffcdd2" />
<rect x="180.45" y="1601.00" width="26.00" height="3.50" fill="#ffcdd2" />
<rect x="208.58" y="1601.00" width="26.00" height="4.00" fill="#ff5252" />
<rect x="236.71" y="1601.00" width="26.00" height="4.00" fill="#ff5252" />
<rect x="264.84" y="1601.00" width="26.00" height="6.00" fill="#ff5252" />
<rect x="292.97" y="1601.00" width="26.00" height="2.50" fill="#ffcdd2" />
<rect x="321.10" y="1592.00" width="26.00" height="11.00" fill="#26a69a" />
<rect x="349.23" y="1580.00" width="26.00" height="23.00" fill="#26a69a" />
<rect x="377.36" y="1561.00" width="26.00" height="42.00" fill="#26a69a" />
<rect x="405.49" y="1551.00" width="26.00" height="52.00" fill="#26a69a" />
<rect x="433.62" y="1555.00" width="26.00" height="48.00" fill="#b2dfdb" />
<rect x="461.75" y="1557.00" width="26.00" height="46.00" fill="#b2dfdb" />
<rect x="489.88" y="1566.00" width="26.00" height="37.00" fill="#b2dfdb" />
<rect x="518.01" y="1583.00" width="26.00" height="20.00" fill="#b2dfdb" />
<rect x="546.14" y="1595.00" width="26.00" height="8.00" fill="#b2dfdb" />
<rect x="574.27" y="1601.00" width="26.00" height="8.00" fill="#ff5252" />
<rect x="602.40" y="1601.00" width="26.00" height="19.00" fill="#ff5252" />
<rect x="630.53" y="1601.00" width="26.00" height="25.00" fill="#ff5252" />
<rect x="658.66" y="1601.00" width="26.00" height="31.00" fill="#ff5252" />
<rect x="686.79" y="1601.00" width="26.00" height="29.00" fill="#ffcdd2" />
<rect x="714.92" y="1601.00" width="26.00" height="17.00" fill="#ffcdd2" />
<rect x="743.05" y="1601.00" width="26.00" height="13.50" fill="#ffcdd2" />
<rect x="771.18" y="1601.00" width="26.00" height="13.50" fill="#ffcdd2" />
<rect x="799.31" y="1601.00" width="26.00" height="15.00" fill="#ff5252" />
<rect x="827.44" y="1601.00" width="26.00" height="14.50" fill="#ffcdd2" />
<rect x="855.57" y="1601.00" width="26.00" height="18.00" fill="#ff5252" />
<rect x="883.70" y="1601.00" width="26.00" height="25.00" fill="#ff5252" />
<rect x="911.83" y="1601.00" width="26.00" height="29.00" fill="#ff5252" />
<rect x="939.96" y="1601.00" width="26.00" height="32.00" fill="#ff5252" />
<rect x="968.09" y="1601.00" width="26.00" height="32.00" fill="#ffcdd2" />
<rect x="996.22" y="1601.00" width="26.00" height="30.00" fill="#ffcdd2" />
<rect x="1024.35" y="1601.00" width="26.00" height="22.00" fill="#ffcdd2" />
<rect x="1052.48" y="1601.00" width="26.00" height="19.50" fill="#ffcdd2" />
<rect x="1080.61" y="1601.00" width="26.00" height="18.50" fill="#ffcdd2" />
<rect x="1108.74" y="1601.00" width="26.00" height="17.50" fill="#ffcdd2" />
<rect x="1136.87" y="1601.00" width="26.00" height="18.00" fill="#ff5252" />
<rect x="1165.00" y="1601.00" width="26.00" height="19.00" fill="#ff5252" />
<rect x="1193.13" y="1601.00" width="26.00" height="19.00" fill="#ff5252" />
<rect x="1221.26" y="1601.00" width="26.00" height="17.50" fill="#ffcdd2" />
<rect x="1249.39" y="1601.00" width="26.00" height="15.50" fill="#ffcdd2" />
<rect x="1277.52" y="1601.00" width="26.00" height="14.00" fill="#ffcdd2" />
<rect x="1305.65" y="1601.00" width="26.00" height="12.00" fill="#ffcdd2" />
<rect x="1333.78" y="1601.00" width="26.00" height="11.50" fill="#ffcdd2" />
<rect x="1361.91" y="1601.00" width="26.00" height="8.00" fill="#ffcdd2" />
<rect x="1390.04" y="1601.00" width="26.00" height="4.50" fill="#ffcdd2" />
<rect x="1418.17" y="1601.00" width="26.00" height="3.50" fill="#ffcdd2" />
<rect x="1446.30" y="1601.00" width="26.00" height="2.50" fill="#ffcdd2" />
<rect x="1474.43" y="1601.00" width="26.00" height="2.00" fill="#ffcdd2" />
<rect x="1502.56" y="1600.50" width="26.00" height="2.50" fill="#26a69a" />
<rect x="1530.69" y="1601.00" width="26.00" height="3.00" fill="#ff5252" />
<rect x="1558.82" y="1601.00" width="26.00" height="4.00" fill="#ff5252" />
<rect x="1586.95" y="1601.00" width="26.00" height="2.50" fill="#ffcdd2" />
<rect x="1615.08" y="1601.00" width="26.00" height="3.50" fill="#ff5252" />
<rect x="1643.21" y="1601.00" width="26.00" height="5.00" fill="#ff5252" />
<rect x="1671.34" y="1601.00" width="26.00" height="3.50" fill="#ffcdd2" />
<rect x="1699.47" y="1601.00" width="26.00" height="2.00" fill="#ffcdd2" />
<rect x="1727.60" y="1600.50" width="26.00" height="2.50" fill="#26a69a" />
<rect x="1755.73" y="1600.50" width="26.00" height="2.50" fill="#26a69a" />
<rect x="1783.86" y="1600.00" width="26.00" height="3.00" fill="#26a69a" />
<rect x="1811.99" y="1599.50" width="26.00" height="3.50" fill="#26a69a" />
<rect x="1840.12" y="1599.50" width="26.00" height="3.50" fill="#26a69a" />
<rect x="1868.25" y="1598.50" width="26.00" height="4.50" fill="#26a69a" />
<rect x="1896.38" y="1595.00" width="26.00" height="8.00" fill="#26a69a" />
<rect x="1924.51" y="1593.00" width="26.00" height="10.00" fill="#26a69a" />
<rect x="1952.64" y="1593.50" width="26.00" height="9.50" fill="#26a69a" />
<rect x="1980.77" y="1593.50" width="26.00" height="9.50" fill="#b2dfdb" />
<rect x="2008.90" y="1594.50" width="26.00" height="8.50" fill="#b2dfdb" />
<rect x="2037.03" y="1594.00" width="26.00" height="9.00" fill="#26a69a" />
<rect x="2065.16" y="1594.50" width="26.00" height="8.50" fill="#b2dfdb" />
<rect x="2093.29" y="1594.50" width="26.00" height="8.50" fill="#b2dfdb" />
<rect x="2121.42" y="1595.00" width="26.00" height="8.00" fill="#b2dfdb" />
<rect x="2149.55" y="1595.00" width="26.00" height="8.00" fill="#b2dfdb" />
<rect x="2177.68" y="1595.00" width="26.00" height="8.00" fill="#b2dfdb" />
<rect x="2205.81" y="1597.00" width="26.00" height="6.00" fill="#b2dfdb" />
<rect x="2233.94" y="1599.00" width="26.00" height="4.00" fill="#b2dfdb" />
<rect x="2262.07" y="1601.00" width="26.00" height="2.00" fill="#b2dfdb" />
<rect x="2290.20" y="1601.00" width="26.00" height="2.00" fill="#ff5252" />
<rect x="2318.33" y="1601.00" width="26.00" height="3.00" fill="#ff5252" />
<rect x="2346.46" y="1601.00" width="26.00" height="2.00" fill="#ffcdd2" />
<rect x="2374.59" y="1594.00" width="26.00" height="9.00" fill="#26a69a" />
<line x1="20.00" y1="1602.00" x2="3087.00" y2="1602.00" stroke="#787b86" stroke-width="2" stroke-dasharray="10 12" stroke-opacity="0.6"/>
<polyline points="20.0,1569.0 52.9,1572.0 81.1,1575.0 109.2,1577.5 137.4,1579.0 165.5,1577.5 193.6,1576.5 221.8,1577.5 249.9,1578.5 278.0,1580.5 306.2,1578.0 334.3,1565.5 362.4,1547.5 390.6,1518.5 418.7,1494.5 446.8,1487.0 475.0,1477.5 503.1,1478.0 531.2,1489.0 559.4,1500.0 587.5,1514.0 615.7,1529.0 643.8,1542.0 671.9,1554.5 700.1,1559.0 728.2,1551.0 756.3,1551.5 784.5,1554.5 812.6,1559.0 840.7,1562.5 868.9,1569.5 897.0,1581.5 925.1,1593.0 953.3,1602.5 981.4,1609.5 1009.5,1615.5 1037.7,1612.5 1065.8,1615.0 1093.9,1618.5 1122.1,1621.5 1150.2,1625.5 1178.4,1631.0 1206.5,1635.5 1234.6,1638.0 1262.8,1639.5 1290.9,1641.0 1319.0,1642.5 1347.2,1643.5 1375.3,1641.5 1403.4,1639.0 1431.6,1638.5 1459.7,1637.5 1487.8,1637.0 1516.0,1636.5 1544.1,1638.0 1572.2,1639.0 1600.4,1639.5 1628.5,1641.0 1656.6,1642.5 1684.8,1642.0 1712.9,1640.5 1741.0,1639.5 1769.2,1638.5 1797.3,1637.5 1825.5,1636.0 1853.6,1634.5 1881.7,1632.5 1909.9,1627.5 1938.0,1623.5 1966.1,1621.0 1994.3,1619.0 2022.4,1617.5 2050.5,1615.5 2078.7,1614.0 2106.8,1612.5 2134.9,1611.0 2163.1,1609.5 2191.2,1608.0 2219.3,1608.5 2247.5,1610.0 2275.6,1611.5 2303.8,1613.5 2331.9,1614.5 2360.0,1614.0 2388.2,1603.5" fill="none" stroke="#2962ff" stroke-width="2" stroke-linejoin="round" stroke-linecap="butt" />
<polyline points="20.0,1568.0 81.1,1571.0 137.4,1573.5 193.6,1574.5 249.9,1575.5 278.0,1577.0 306.2,1577.0 334.3,1574.5 362.4,1569.0 390.6,1559.0 418.7,1545.0 446.8,1533.0 475.0,1522.0 503.1,1513.5 531.2,1509.0 559.4,1507.0 587.5,1508.5 615.7,1512.5 643.8,1518.5 671.9,1526.0 700.1,1532.5 728.2,1536.0 756.3,1539.0 784.5,1542.0 812.6,1545.5 840.7,1549.0 868.9,1553.0 897.0,1559.0 925.1,1566.5 953.3,1574.0 981.4,1581.0 1009.5,1587.5 1037.7,1592.5 1065.8,1597.5 1093.9,1602.5 1122.1,1607.5 1150.2,1611.5 1178.4,1615.0 1206.5,1619.0 1234.6,1622.0 1262.8,1625.0 1290.9,1628.0 1347.2,1633.5 1375.3,1635.0 1403.4,1636.0 1459.7,1637.0 1516.0,1637.0 1572.2,1637.5 1628.5,1638.0 1656.6,1639.5 1684.8,1640.0 1741.0,1640.0 1797.3,1639.0 1853.6,1638.0 1881.7,1637.0 1909.9,1635.0 1938.0,1632.5 1966.1,1630.5 1994.3,1628.0 2022.4,1626.0 2050.5,1624.0 2078.7,1622.0 2106.8,1620.0 2134.9,1618.5 2163.1,1616.5 2191.2,1615.0 2219.3,1613.5 2247.5,1613.0 2275.6,1612.5 2303.8,1612.5 2331.9,1613.0 2360.0,1613.5 2388.2,1611.0" fill="none" stroke="#ff6d00" stroke-width="2" stroke-linejoin="round" stroke-linecap="butt" />
</g>
<line x1="20.00" y1="1248.50" x2="3230.00" y2="1248.50" stroke="#e0e3eb" stroke-width="2" />
<line x1="20.00" y1="1455.50" x2="3230.00" y2="1455.50" stroke="#e0e3eb" stroke-width="2" />
<line x1="20.00" y1="1663.20" x2="3230.00" y2="1663.20" stroke="#f4f5f6" stroke-width="1.5" />
<line x1="3086.30" y1="54.00" x2="3086.30" y2="1718.50" stroke="#f4f5f7" stroke-width="1.5" />
<rect x="20" y="53.3" width="3210" height="1665.2" fill="none" stroke="#f1f2f4" stroke-width="2"/>
<text x="3105.00" y="234.40" font-size="23.6" fill="#131722" textLength="80.0" lengthAdjust="spacingAndGlyphs" >100.00</text>
<text x="3105.00" y="348.00" font-size="23.6" fill="#131722" textLength="65.4" lengthAdjust="spacingAndGlyphs" >90.00</text>
<text x="3105.00" y="461.60" font-size="23.6" fill="#131722" textLength="65.4" lengthAdjust="spacingAndGlyphs" >80.00</text>
<text x="3105.00" y="575.20" font-size="23.6" fill="#131722" textLength="65.4" lengthAdjust="spacingAndGlyphs" >70.00</text>
<text x="3105.00" y="688.80" font-size="23.6" fill="#131722" textLength="65.4" lengthAdjust="spacingAndGlyphs" >60.00</text>
<text x="3105.00" y="802.40" font-size="23.6" fill="#131722" textLength="65.4" lengthAdjust="spacingAndGlyphs" >50.00</text>
<text x="3105.00" y="916.00" font-size="23.6" fill="#131722" textLength="65.4" lengthAdjust="spacingAndGlyphs" >40.00</text>
<text x="3105.00" y="1029.60" font-size="23.6" fill="#131722" textLength="65.4" lengthAdjust="spacingAndGlyphs" >30.00</text>
<text x="3105.00" y="1143.20" font-size="23.6" fill="#131722" textLength="65.4" lengthAdjust="spacingAndGlyphs" >20.00</text>
<g clip-path="url(#ca2)">
<text x="3105.00" y="1317.15" font-size="23.6" fill="#131722" textLength="65.4" lengthAdjust="spacingAndGlyphs" >75.00</text>
</g>
<g clip-path="url(#ca2)">
<text x="3105.00" y="1388.40" font-size="23.6" fill="#131722" textLength="65.4" lengthAdjust="spacingAndGlyphs" >50.00</text>
</g>
<g clip-path="url(#ca2)">
<text x="3105.00" y="1459.65" font-size="23.6" fill="#131722" textLength="65.4" lengthAdjust="spacingAndGlyphs" >25.00</text>
</g>
<g clip-path="url(#ca3)">
<text x="3105.00" y="1477.90" font-size="23.6" fill="#131722" textLength="65.4" lengthAdjust="spacingAndGlyphs" >20.00</text>
</g>
<g clip-path="url(#ca3)">
<text x="3105.00" y="1544.15" font-size="23.6" fill="#131722" textLength="65.4" lengthAdjust="spacingAndGlyphs" >10.00</text>
</g>
<rect x="3094" y="62" width="128" height="52" rx="8" fill="#fff" stroke="#eeeff3" stroke-width="1.4"/>
<text x="3113.00" y="96.00" font-size="23.6" fill="#131722" textLength="62.5" lengthAdjust="spacingAndGlyphs" >USDT</text>
<path d="M3088,694H3217Q3220,694 3220,697V753Q3220,756 3217,756H3088Z" fill="#d1d4dc"/>
<text x="3105.00" y="718.90" font-size="23.6" fill="#131722" textLength="65.4" lengthAdjust="spacingAndGlyphs" >57.34</text>
<text x="3106.00" y="746.90" font-size="23.6" fill="#3a3e4b" textLength="101.5" lengthAdjust="spacingAndGlyphs" >13:00:24</text>
<path d="M3088,826.5H3179Q3182,826.5 3182,829.5V857Q3182,860 3179,860H3088Z" fill="#ff8000"/>
<text x="3105.00" y="851.60" font-size="23.6" fill="#fff" textLength="65.4" lengthAdjust="spacingAndGlyphs" >45.69</text>
<path d="M3088,874H3179Q3182,874 3182,877V904.8Q3182,907.8 3179,907.8H3088Z" fill="#0a0aff"/>
<text x="3105.00" y="899.60" font-size="23.6" fill="#fff" textLength="65.4" lengthAdjust="spacingAndGlyphs" >41.47</text>
<path d="M3027,947.5H3085.8V981H3027Q3024,981 3024,978V950.5Q3024,947.5 3027,947.5Z" fill="#e3effd"/>
<path d="M3088,947.5H3179Q3182,947.5 3182,950.5V978Q3182,981 3179,981H3088Z" fill="#e3effd"/>
<text x="3034.00" y="972.60" font-size="23.6" fill="#131722" textLength="43.0" lengthAdjust="spacingAndGlyphs" >Low</text>
<text x="3105.00" y="972.60" font-size="23.6" fill="#131722" textLength="65.4" lengthAdjust="spacingAndGlyphs" >35.04</text>
<path d="M3088,1304H3179Q3182,1304 3182,1307V1334.5Q3182,1337.5 3179,1337.5H3088Z" fill="#7e57c2"/>
<text x="3105.00" y="1329.40" font-size="23.6" fill="#fff" textLength="65.4" lengthAdjust="spacingAndGlyphs" >70.43</text>
<path d="M3088,1373.5H3179Q3182,1373.5 3182,1376.5V1404Q3182,1407 3179,1407H3088Z" fill="#fdd835"/>
<text x="3105.00" y="1398.90" font-size="23.6" fill="#000" textLength="65.4" lengthAdjust="spacingAndGlyphs" >46.32</text>
<g clip-path="url(#ca3)">
<path d="M3088,1577.5H3164.5Q3167.5,1577.5 3167.5,1580.5V1607.5Q3167.5,1610.5 3164.5,1610.5H3088Z" fill="#26a69a"/>
<text x="3105.00" y="1602.40" font-size="23.6" fill="#fff" textLength="49.0" lengthAdjust="spacingAndGlyphs" >1.15</text>
<path d="M3088,1611.5H3179Q3182,1611.5 3182,1614.5V1641.5Q3182,1644.5 3179,1644.5H3088Z" fill="#2962ff"/>
<text x="3105.00" y="1636.40" font-size="23.6" fill="#fff" textLength="65.4" lengthAdjust="spacingAndGlyphs" >−0.27</text>
<path d="M3088,1645.5H3179Q3182,1645.5 3182,1648.5V1676Q3182,1679 3179,1679H3088Z" fill="#ff6d00"/>
<text x="3105.00" y="1672.40" font-size="23.6" fill="#fff" textLength="65.4" lengthAdjust="spacingAndGlyphs" >−1.43</text>
</g>
<clipPath id="ct"><rect x="21" y="1663.2" width="3067" height="55.299999999999955"/></clipPath>
<g clip-path="url(#ct)">
<text x="25.12" y="1699.90" font-size="23.6" fill="#131722" text-anchor="middle" textLength="27.0" lengthAdjust="spacingAndGlyphs" >21</text>
</g>
<text x="137.62" y="1699.90" font-size="23.6" fill="#131722" text-anchor="middle" textLength="27.5" lengthAdjust="spacingAndGlyphs" >25</text>
<text x="334.50" y="1699.90" font-size="23.6" fill="#131722" text-anchor="middle" textLength="43.5" lengthAdjust="spacingAndGlyphs" >Nov</text>
<text x="447.00" y="1699.90" font-size="23.6" fill="#131722" text-anchor="middle" textLength="13.0" lengthAdjust="spacingAndGlyphs" >5</text>
<text x="559.50" y="1699.90" font-size="23.6" fill="#131722" text-anchor="middle" textLength="13.5" lengthAdjust="spacingAndGlyphs" >9</text>
<text x="672.00" y="1699.90" font-size="23.6" fill="#131722" text-anchor="middle" textLength="27.0" lengthAdjust="spacingAndGlyphs" >13</text>
<text x="784.50" y="1699.90" font-size="23.6" fill="#131722" text-anchor="middle" textLength="27.0" lengthAdjust="spacingAndGlyphs" >17</text>
<text x="897.00" y="1699.90" font-size="23.6" fill="#131722" text-anchor="middle" textLength="27.0" lengthAdjust="spacingAndGlyphs" >21</text>
<text x="1009.50" y="1699.90" font-size="23.6" fill="#131722" text-anchor="middle" textLength="27.5" lengthAdjust="spacingAndGlyphs" >25</text>
<text x="1178.25" y="1699.90" font-size="23.6" fill="#131722" text-anchor="middle" textLength="42.5" lengthAdjust="spacingAndGlyphs" >Dec</text>
<text x="1290.75" y="1699.90" font-size="23.6" fill="#131722" text-anchor="middle" textLength="13.0" lengthAdjust="spacingAndGlyphs" >5</text>
<text x="1403.25" y="1699.90" font-size="23.6" fill="#131722" text-anchor="middle" textLength="13.5" lengthAdjust="spacingAndGlyphs" >9</text>
<text x="1515.75" y="1699.90" font-size="23.6" fill="#131722" text-anchor="middle" textLength="27.0" lengthAdjust="spacingAndGlyphs" >13</text>
<text x="1628.25" y="1699.90" font-size="23.6" fill="#131722" text-anchor="middle" textLength="27.0" lengthAdjust="spacingAndGlyphs" >17</text>
<text x="1740.75" y="1699.90" font-size="23.6" fill="#131722" text-anchor="middle" textLength="27.0" lengthAdjust="spacingAndGlyphs" >21</text>
<text x="1853.25" y="1699.90" font-size="23.6" fill="#131722" text-anchor="middle" textLength="27.5" lengthAdjust="spacingAndGlyphs" >25</text>
<text x="2162.62" y="1699.90" font-size="23.6" fill="#131722" text-anchor="middle" textLength="13.0" lengthAdjust="spacingAndGlyphs" >5</text>
<text x="2275.12" y="1699.90" font-size="23.6" fill="#131722" text-anchor="middle" textLength="13.5" lengthAdjust="spacingAndGlyphs" >9</text>
<text x="2387.62" y="1699.90" font-size="23.6" fill="#131722" text-anchor="middle" textLength="27.0" lengthAdjust="spacingAndGlyphs" >13</text>
<text x="2500.12" y="1699.90" font-size="23.6" fill="#131722" text-anchor="middle" textLength="27.0" lengthAdjust="spacingAndGlyphs" >17</text>
<text x="2612.62" y="1699.90" font-size="23.6" fill="#131722" text-anchor="middle" textLength="27.0" lengthAdjust="spacingAndGlyphs" >21</text>
<text x="2725.12" y="1699.90" font-size="23.6" fill="#131722" text-anchor="middle" textLength="27.5" lengthAdjust="spacingAndGlyphs" >25</text>
<text x="2922.00" y="1699.90" font-size="23.6" fill="#131722" text-anchor="middle" textLength="41.0" lengthAdjust="spacingAndGlyphs" >Feb</text>
<text x="3034.50" y="1699.90" font-size="23.6" fill="#131722" text-anchor="middle" textLength="13.0" lengthAdjust="spacingAndGlyphs" >5</text>
<text x="2050.12" y="1699.90" font-size="23.6" fill="#131722" text-anchor="middle" textLength="63.0" lengthAdjust="spacingAndGlyphs" font-weight="bold" >2026</text>
<g fill="#131313">
<path d="M23.9,1762.2H47.9V1791.8H35.9V1773.9H23.9Z"/>
<circle cx="57.95" cy="1768.1" r="6"/>
<path d="M69.3,1762.2H83.5L72.1,1791.8H57.6Z"/>
</g>
<text x="98.00" y="1791.80" font-size="44.3" fill="#131313" textLength="242.0" lengthAdjust="spacingAndGlyphs" font-weight="bold" stroke="#131313" stroke-width="0.7">TradingView</text>
</svg>
</body></html>
